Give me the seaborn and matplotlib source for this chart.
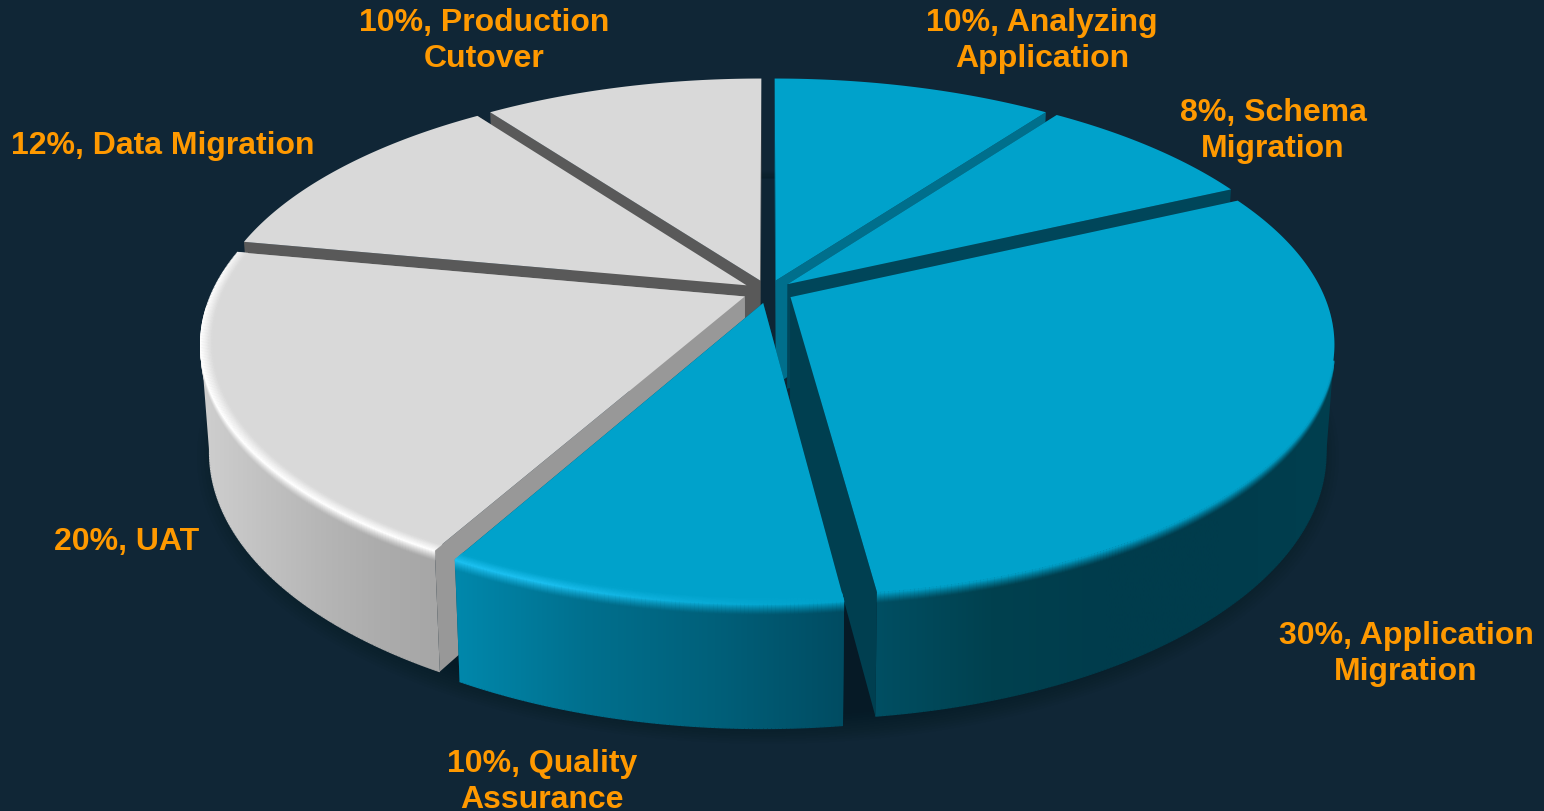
import numpy as np
import matplotlib
matplotlib.use("Agg")
import matplotlib.pyplot as plt
from matplotlib.collections import LineCollection
from matplotlib.patches import Polygon
from matplotlib.colors import to_rgb
import seaborn as sns

# Project phase shares, clockwise from twelve o'clock
categories = ["Analyzing\nApplication", "Schema\nMigration", "Application\nMigration",
              "Quality\nAssurance", "UAT", "Data Migration", "Production\nCutover"]
shares = [10, 8, 30, 10, 20, 12, 10]

BG = "#102636"
BLUE, GREY = "#00A2CB", "#D9D9D9"
tops = [BLUE, BLUE, BLUE, BLUE, GREY, GREY, GREY]
walls = ["#006F8C", "#00465A", "#003F50", "#004A60", "#989898", "#595959", "#595959"]
# Outer side shading, left to right across each slice; slices at the back show no side
side_stops = [None, None,
              ["#004F63", "#00414F", "#003C4C", "#003C4C", "#003F4F"],
              ["#0088AC", "#00708E", "#00607A", "#004C62"],
              ["#CFCFCF", "#C2C2C2", "#B6B6B6", "#ACACAC", "#A6A6A6"], None, None]
highlights = [None, None, None, "#1CC0F0", "#FFFFFF", None, None]
label_anchor = [(1042, 41), (1273, 131), (1406, 654), (542, 782), (127, 542), (163, 146), (484, 41)]

# Perspective pie geometry, in figure pixels
CX, CY, A, B, K = 768.0, 292.5, 532.0, 242.0, 0.18
EXPLODE, DEPTH, SHRINK = 0.048, 105.0, 0.985


def project(x, y, z=0.0):
    """Map unit-disc coordinates at depth fraction z to the screen."""
    den = 1 + K * y
    px = A * x / den
    py = -B * y / den
    s = 1 - (1 - SHRINK) * z
    return CX + px * s, CY + py * s + z * DEPTH / den


def disc(theta, mid, r=1.0):
    t, m = np.radians(theta), np.radians(mid)
    return r * np.sin(t) + EXPLODE * np.sin(m), r * np.cos(t) + EXPLODE * np.cos(m)


def blend(c0, c1, w):
    c0, c1 = np.array(to_rgb(c0)), np.array(to_rgb(c1))
    return c0 + (c1 - c0) * w


def convex_hull(points):
    """Monotone-chain hull of an array of 2D points."""
    pts = sorted(map(tuple, points))

    def half(seq):
        out = []
        for p in seq:
            while len(out) > 1 and ((out[-1][0] - out[-2][0]) * (p[1] - out[-2][1])
                                    - (out[-1][1] - out[-2][1]) * (p[0] - out[-2][0])) <= 0:
                out.pop()
            out.append(p)
        return out[:-1]

    return np.array(half(pts) + half(pts[::-1]))


sns.set_theme(style="white")
fig = plt.figure(figsize=(15.44, 8.12), dpi=100, facecolor=BG)
ax = fig.add_axes([0, 0, 1, 1], facecolor=BG)
ax.axis("off")

fracs = np.array(shares, dtype=float) / sum(shares)
edges = np.concatenate([[0], np.cumsum(fracs)]) * 360
mids = (edges[:-1] + edges[1:]) / 2

# Soft shadow cast around the base of the pie, kept out of the gaps at the back
ring = np.radians(np.linspace(0, 360, 361))
for grow in np.linspace(1.07, 1.0, 12):
    ax.fill(*project(grow * np.sin(ring), grow * np.cos(ring), 1.05), color="#06141C", alpha=0.05, lw=0, zorder=1)
back = np.radians(np.linspace(-100, 100, 201))
ax.fill(*project(np.sin(back), np.cos(back), 1.0), color="#0E2534", lw=0, zorder=2)

# Paint from the far side of the disc to the near side
order = [6, 0, 5, 1, 4, 2, 3]
for z_base, i in enumerate(order):
    t0, t1, mid = edges[i], edges[i + 1], mids[i]
    zo = 10 + z_base * 10
    ax_, ay_ = disc(t0, mid, 0.0)

    # Radial cut faces
    for t in (t0, t1):
        rx, ry = disc(t, mid)
        quad = [project(ax_, ay_), project(rx, ry), project(rx, ry, 1), project(ax_, ay_, 1)]
        ax.fill(*zip(*quad), color=walls[i], lw=0, zorder=zo)

    th = np.linspace(t0, t1, max(int(t1 - t0) * 3, 12))
    x, y = disc(th, mid)
    up = np.column_stack(project(x, y))

    if side_stops[i]:
        # Curved outer side: a horizontal gradient clipped to the slice's silhouette
        lo = np.column_stack(project(x, y, 1))
        outline = convex_hull(np.vstack([up, lo]))
        xmin, xmax = outline[:, 0].min(), outline[:, 0].max()
        ymin, ymax = outline[:, 1].min(), outline[:, 1].max()
        pal = np.array(sns.blend_palette(side_stops[i], n_colors=256))

        def side_at(px):
            idx = np.clip(((px - xmin) / (xmax - xmin) * 255).astype(int), 0, 255)
            return pal[idx]

        im = ax.imshow(pal[None, :, :], extent=[xmin, xmax, ymax, ymin], aspect="auto",
                       interpolation="bilinear", zorder=zo + 1)
        im.set_clip_path(Polygon(outline, closed=True, transform=ax.transData))

        # Smooth the lower outline of the side
        segs = [[lo[j], lo[j + 1]] for j in range(len(lo) - 1)]
        ax.add_collection(LineCollection(segs, colors=side_at(lo[:-1, 0]), linewidths=1.0, zorder=zo + 1))

        # Rim strength along the arc, strongest where the slice catches the light
        if i == 4:
            w = np.clip((296 - th) / 22, 0, 1)
        elif i == 3:
            w = np.clip((th - 172) / 28, 0, 1) ** 1.4
        else:
            w = np.zeros_like(th)
        hl = highlights[i] or tops[i]
        keep = (th > 104) & (th < 268)

        # Lower half of the rim blends down into the side
        for t_layer in np.linspace(0.08, 0.004, 10):
            pts = np.column_stack(project(x, y, t_layer))
            fade = 1 - t_layer / 0.085
            base = side_at(pts[:, 0])
            segs, cols = [], []
            for j in range(len(th) - 1):
                if keep[j] and keep[j + 1]:
                    peak = blend(tops[i], hl, w[j])
                    cols.append(base[j] + (peak - base[j]) * fade ** 1.2)
                    segs.append([pts[j], pts[j + 1]])
            ax.add_collection(LineCollection(segs, colors=cols, linewidths=1.6, zorder=zo + 2))

    # Top surface
    poly = [project(ax_, ay_)] + list(zip(*project(x, y)))
    ax.fill(*zip(*poly), color=tops[i], lw=0, zorder=zo + 3)

    # Bevelled highlight just inside the rim
    if highlights[i]:
        for r_off, strength in zip(np.linspace(0.0, 0.02, 10), np.linspace(1, 0.03, 10)):
            xx, yy = disc(th, mid, 1 - r_off)
            pts = np.column_stack(project(xx, yy))
            cols = [blend(tops[i], highlights[i], w[j] * strength) for j in range(len(th) - 1)]
            segs = [[pts[j], pts[j + 1]] for j in range(len(th) - 1)]
            ax.add_collection(LineCollection(segs, colors=cols, linewidths=1.5, zorder=zo + 4))

for name, share, (lx, ly) in zip(categories, shares, label_anchor):
    ax.text(lx, ly, f"{share}%, {name}", ha="center", va="center", color="#FF9900",
            family="Liberation Sans", weight="bold", fontsize=23, linespacing=1.26, zorder=200)

ax.set_xlim(0, 1544)
ax.set_ylim(812, 0)
fig.savefig("out.png", dpi=100, facecolor=BG)
